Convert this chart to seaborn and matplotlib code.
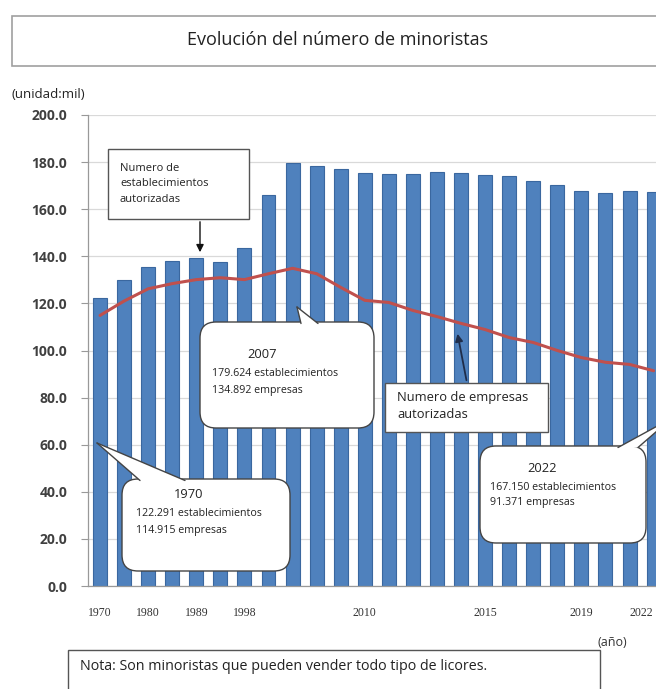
import numpy as np
import pandas as pd
import matplotlib
matplotlib.use("Agg")
import matplotlib.pyplot as plt
import seaborn as sns
from matplotlib.transforms import Affine2D
from matplotlib.patches import Rectangle, FancyBboxPatch, Polygon, FancyArrowPatch
from matplotlib.lines import Line2D

# ---------------- data ----------------
years = ["1970", "1975", "1980", "1985", "1989", "1994", "1998", "2003",
         "2007", "2008", "2009", "2010", "2011", "2012", "2013", "2014",
         "2015", "2016", "2017", "2018", "2019", "2020", "2021", "2022"]
establecimientos = [122.3, 130.0, 135.5, 138.0, 139.4, 137.7, 143.7, 166.0,
                    179.6, 178.2, 177.0, 175.3, 174.8, 175.1, 175.6, 175.3,
                    174.7, 174.1, 172.0, 170.4, 167.7, 167.0, 167.6, 167.2]
empresas = [114.9, 121.0, 126.2, 128.4, 130.1, 130.9, 130.1, 132.6,
            134.9, 132.6, 126.8, 121.3, 120.4, 117.0, 114.4, 111.5,
            108.9, 105.5, 103.4, 100.0, 97.0, 95.0, 94.1, 91.4]
shown_years = ["1970", "1980", "1989", "1998", "2010", "2015", "2019", "2022"]
yticks = [0, 20, 40, 60, 80, 100, 120, 140, 160, 180, 200]

df = pd.DataFrame({"year": years, "estab": establecimientos,
                   "empresas": empresas, "idx": np.arange(len(years))})

# ---------------- figure ----------------
sns.set_theme(style="white")
plt.rcParams["font.family"] = ["Open Sans", "DejaVu Sans"]

W, H = 656, 689
fig = plt.figure(figsize=(W / 100, H / 100), dpi=100)
ax = fig.add_axes([88 / W, (H - 586) / H, 1 - 88 / W, (586 - 115) / H])

sns.barplot(data=df, x="year", y="estab", ax=ax, color="#4F81BD",
            edgecolor="#3A679F", linewidth=0.8, width=0.58, saturation=1,
            zorder=2)
sns.lineplot(data=df, x="idx", y="empresas", ax=ax, color="#C0504D",
             linewidth=2.2, zorder=3)

ax.set_xlim(-0.5, 23.1)
ax.set_ylim(0, 200)
ax.set_yticks(yticks)
ax.set_yticklabels([f"{v:.1f}" for v in yticks], fontsize=10,
                   fontweight="bold", color="#404040")
ax.set_xticks(range(len(years)))
ax.set_xticklabels([y if y in shown_years else "" for y in years],
                   fontsize=8.5, family="Liberation Serif", color="#333333")
last = ax.get_xticklabels()[-1]
last.set_horizontalalignment("right")
last.set_x(0)
ax.tick_params(axis="x", length=0, pad=15)
ax.tick_params(axis="y", length=5, width=0.8, color="#999999", pad=10,
               direction="out", left=True)
ax.set_xlabel("")
ax.set_ylabel("")
ax.grid(axis="y", color="#D9D9D9", linewidth=0.9, zorder=0)
ax.set_axisbelow(True)
for s in ["top", "right"]:
    ax.spines[s].set_visible(False)
ax.spines["left"].set_color("#999999")
ax.spines["bottom"].set_color("#999999")
ax.spines["left"].set_linewidth(0.9)
ax.spines["bottom"].set_linewidth(0.9)

# pixel transform for decorations (origin top-left)
T = Affine2D().scale(1 / W, -1 / H).translate(0, 1) + fig.transFigure


def ptext(x, y, s, **kw):
    kw.setdefault("transform", T)
    fig.text(x, y, s, **kw)


# title box
fig.add_artist(Rectangle((12, 16), 660, 50, transform=T, facecolor="white",
                         edgecolor="#A0A0A0", linewidth=1.2))
ptext(338, 40, "Evolución del número de minoristas", fontsize=13,
      ha="center", va="center", color="#222222")

ptext(12, 94, "(unidad:mil)", fontsize=9.5, ha="left", va="center",
      color="#222222")
ptext(598, 643, "(año)", fontsize=9, ha="left", va="center", color="#333333")

# note box
fig.add_artist(Rectangle((68, 650), 532, 50, transform=T, facecolor="white",
                         edgecolor="#555555", linewidth=1.0))
ptext(80, 667, "Nota: Son minoristas que pueden vender todo tipo de licores.",
      fontsize=10.3, ha="left", va="center", color="#222222")

# box: establecimientos
fig.add_artist(Rectangle((108, 149), 141, 70, transform=T, facecolor="white",
                         edgecolor="#555555", linewidth=1.0, zorder=4))
ptext(120, 184, "Numero de\nestablecimientos\nautorizadas", fontsize=8,
      ha="left", va="center", linespacing=1.55, color="#222222", zorder=5)
fig.add_artist(FancyArrowPatch((200, 219), (200, 255), transform=T,
                               arrowstyle="-|>", mutation_scale=11,
                               color="#111111", linewidth=1.0, zorder=5))

# box: empresas
fig.add_artist(Rectangle((385, 383), 163, 49, transform=T, facecolor="white",
                         edgecolor="#555555", linewidth=1.0, zorder=4))
ptext(397, 406, "Numero de empresas\nautorizadas", fontsize=9.3,
      ha="left", va="center", linespacing=1.3, color="#222222", zorder=5)
fig.add_artist(FancyArrowPatch((467, 383), (457, 331), transform=T,
                               arrowstyle="-|>", mutation_scale=11,
                               color="#1F2D4A", linewidth=1.3, zorder=5))


def callout(x0, y0, w, h, tip, base1, base2):
    fig.add_artist(FancyBboxPatch((x0, y0), w, h, transform=T,
                                  boxstyle="round,pad=0,rounding_size=16",
                                  facecolor="white", edgecolor="#444444",
                                  linewidth=1.0, zorder=4))
    fig.add_artist(Polygon([base1, tip, base2], closed=True, transform=T,
                           facecolor="white", edgecolor="none", zorder=4.1))
    for b in (base1, base2):
        fig.add_artist(Line2D([b[0], tip[0]], [b[1], tip[1]], transform=T,
                              color="#444444", linewidth=1.0, zorder=4.2))


# 2007 callout
callout(200, 322, 174, 106, (297, 307), (301, 323.5), (318, 323.5))
ptext(262, 355, "2007", fontsize=9.3, ha="center", va="center",
      color="#222222", zorder=5)
ptext(212, 373, "179.624 establecimientos", fontsize=7.7, ha="left",
      va="center", color="#222222", zorder=5)
ptext(212, 390, "134.892 empresas", fontsize=7.7, ha="left",
      va="center", color="#222222", zorder=5)

# 1970 callout
callout(122, 479, 168, 92, (97, 443), (140, 480.5), (185, 480.5))
ptext(189, 495, "1970", fontsize=9.3, ha="center", va="center",
      color="#222222", zorder=5)
ptext(136, 513, "122.291 establecimientos", fontsize=7.7, ha="left",
      va="center", color="#222222", zorder=5)
ptext(136, 530, "114.915 empresas", fontsize=7.7, ha="left",
      va="center", color="#222222", zorder=5)

# 2022 callout
callout(480, 446, 166, 97, (672, 418), (618, 447.5), (638, 447.5))
ptext(542, 468, "2022", fontsize=9.3, ha="center", va="center",
      color="#222222", zorder=5)
ptext(490, 487, "167.150 establecimientos", fontsize=7.7, ha="left",
      va="center", color="#222222", zorder=5)
ptext(490, 503, "91.371 empresas", fontsize=7.7, ha="left",
      va="center", color="#222222", zorder=5)

fig.savefig("out.png", dpi=100)
